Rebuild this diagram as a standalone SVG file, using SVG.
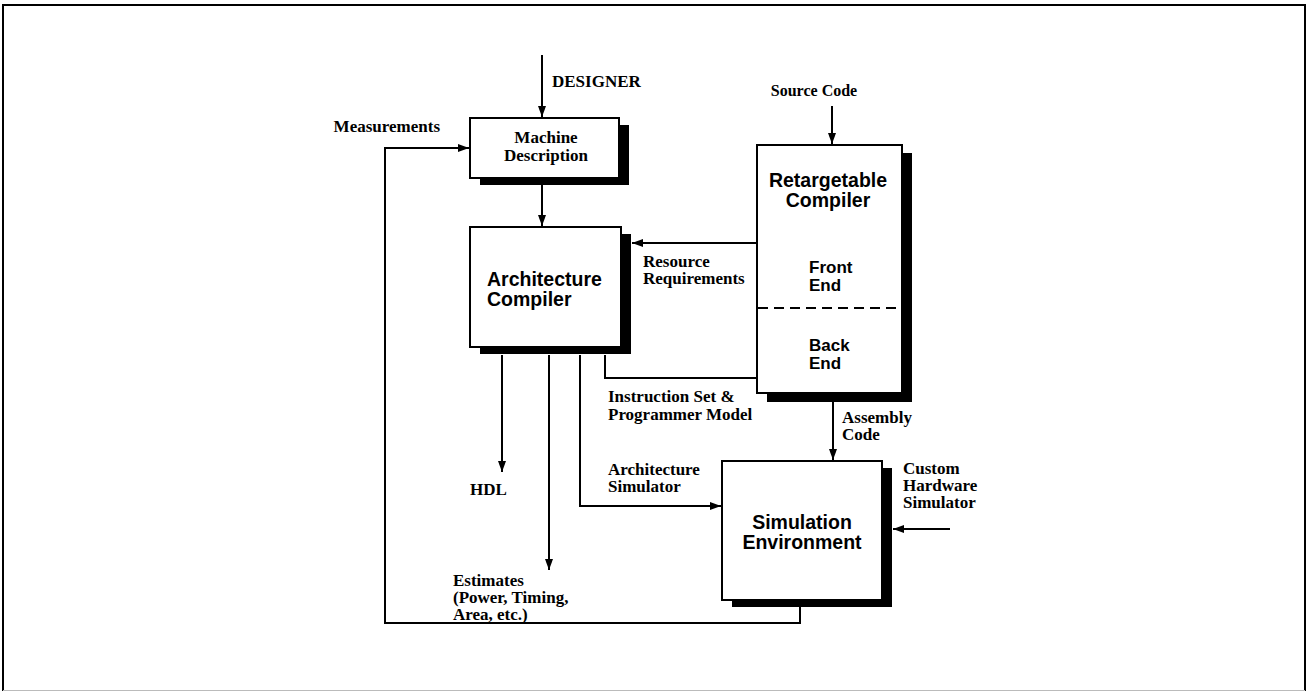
<svg xmlns="http://www.w3.org/2000/svg" width="1307" height="692" viewBox="0 0 1307 692">
<defs>
<marker id="ah" markerUnits="userSpaceOnUse" markerWidth="12" markerHeight="10" refX="11" refY="5" orient="auto">
<path d="M0,1 L11,5 L0,9 Z" fill="#000"/>
</marker>
<style>
.frame{fill:none;stroke:#000;stroke-width:2}
.box{fill:#fff;stroke:#000;stroke-width:2}
.sh{fill:#000}
.c{fill:none;stroke:#000;stroke-width:2}
.a{marker-end:url(#ah)}
.ser{font-family:"Liberation Serif","Times New Roman",serif;font-weight:bold;font-size:17px;fill:#000}
.sans{font-family:"Liberation Sans",Arial,sans-serif;font-weight:bold;font-size:19.5px;fill:#000}
.sans2{font-family:"Liberation Sans",Arial,sans-serif;font-weight:bold;font-size:17px;fill:#000}
</style>
</defs>
<rect width="1307" height="692" fill="#fff"/>
<path class="frame" d="M3,691 V5 H1305 V691"/>
<line x1="3" y1="690.5" x2="1305" y2="690.5" stroke="#bbb" stroke-width="1"/>

<g id="connectors">
<path class="c a" d="M542,55 V117"/>
<path class="c a" d="M832,106 V144"/>
<path class="c a" d="M800,607 V623 H385 V148 H469"/>
<path class="c a" d="M542,183 V226"/>
<path class="c a" d="M757,243 H632"/>
<path class="c" d="M605,355 V378 H757"/>
<path class="c a" d="M833,402 V460"/>
<path class="c a" d="M580,355 V506 H721"/>
<path class="c a" d="M950,529 H893"/>
<path class="c a" d="M502,355 V472"/>
<path class="c a" d="M549,355 V570"/>
</g>

<g id="machine-description">
<rect class="sh" x="480" y="125" width="149" height="60"/>
<rect class="box" x="470" y="118" width="149" height="60"/>
<text class="ser" x="546" y="143" text-anchor="middle">Machine</text>
<text class="ser" x="546" y="161" text-anchor="middle">Description</text>
</g>

<g id="architecture-compiler">
<rect class="sh" x="480" y="234" width="151" height="120"/>
<rect class="box" x="470" y="227" width="151" height="120"/>
<text class="sans" x="487" y="286">Architecture</text>
<text class="sans" x="487" y="306">Compiler</text>
</g>

<g id="retargetable-compiler">
<rect class="sh" x="767" y="153" width="145" height="249"/>
<rect class="box" x="757" y="145" width="145" height="248"/>
<line x1="758" y1="308" x2="901" y2="308" stroke="#000" stroke-width="2" stroke-dasharray="10,6"/>
<text class="sans" x="828" y="187" text-anchor="middle">Retargetable</text>
<text class="sans" x="828" y="207" text-anchor="middle">Compiler</text>
<text class="sans2" x="809" y="273">Front</text>
<text class="sans2" x="809" y="291">End</text>
<text class="sans2" x="809" y="351">Back</text>
<text class="sans2" x="809" y="369">End</text>
</g>

<g id="simulation-environment">
<rect class="sh" x="732" y="468" width="160" height="139"/>
<rect class="box" x="722" y="461" width="160" height="139"/>
<text class="sans" x="802" y="529" text-anchor="middle">Simulation</text>
<text class="sans" x="802" y="549" text-anchor="middle">Environment</text>
</g>

<g id="labels">
<text class="ser" x="552" y="87">DESIGNER</text>
<text class="ser" x="814" y="96" text-anchor="middle" style="font-size:16px">Source Code</text>
<text class="ser" x="440" y="132" text-anchor="end">Measurements</text>
<text class="ser" x="643" y="267">Resource</text>
<text class="ser" x="643" y="284">Requirements</text>
<text class="ser" x="608" y="402">Instruction Set &amp;</text>
<text class="ser" x="608" y="420">Programmer Model</text>
<text class="ser" x="842" y="423">Assembly</text>
<text class="ser" x="842" y="440">Code</text>
<text class="ser" x="608" y="475">Architecture</text>
<text class="ser" x="608" y="492">Simulator</text>
<text class="ser" x="903" y="474">Custom</text>
<text class="ser" x="903" y="491">Hardware</text>
<text class="ser" x="903" y="508">Simulator</text>
<text class="ser" x="470" y="495">HDL</text>
<text class="ser" x="453" y="586">Estimates</text>
<text class="ser" x="453" y="603">(Power, Timing,</text>
<text class="ser" x="453" y="620">Area, etc.)</text>
</g>
</svg>
